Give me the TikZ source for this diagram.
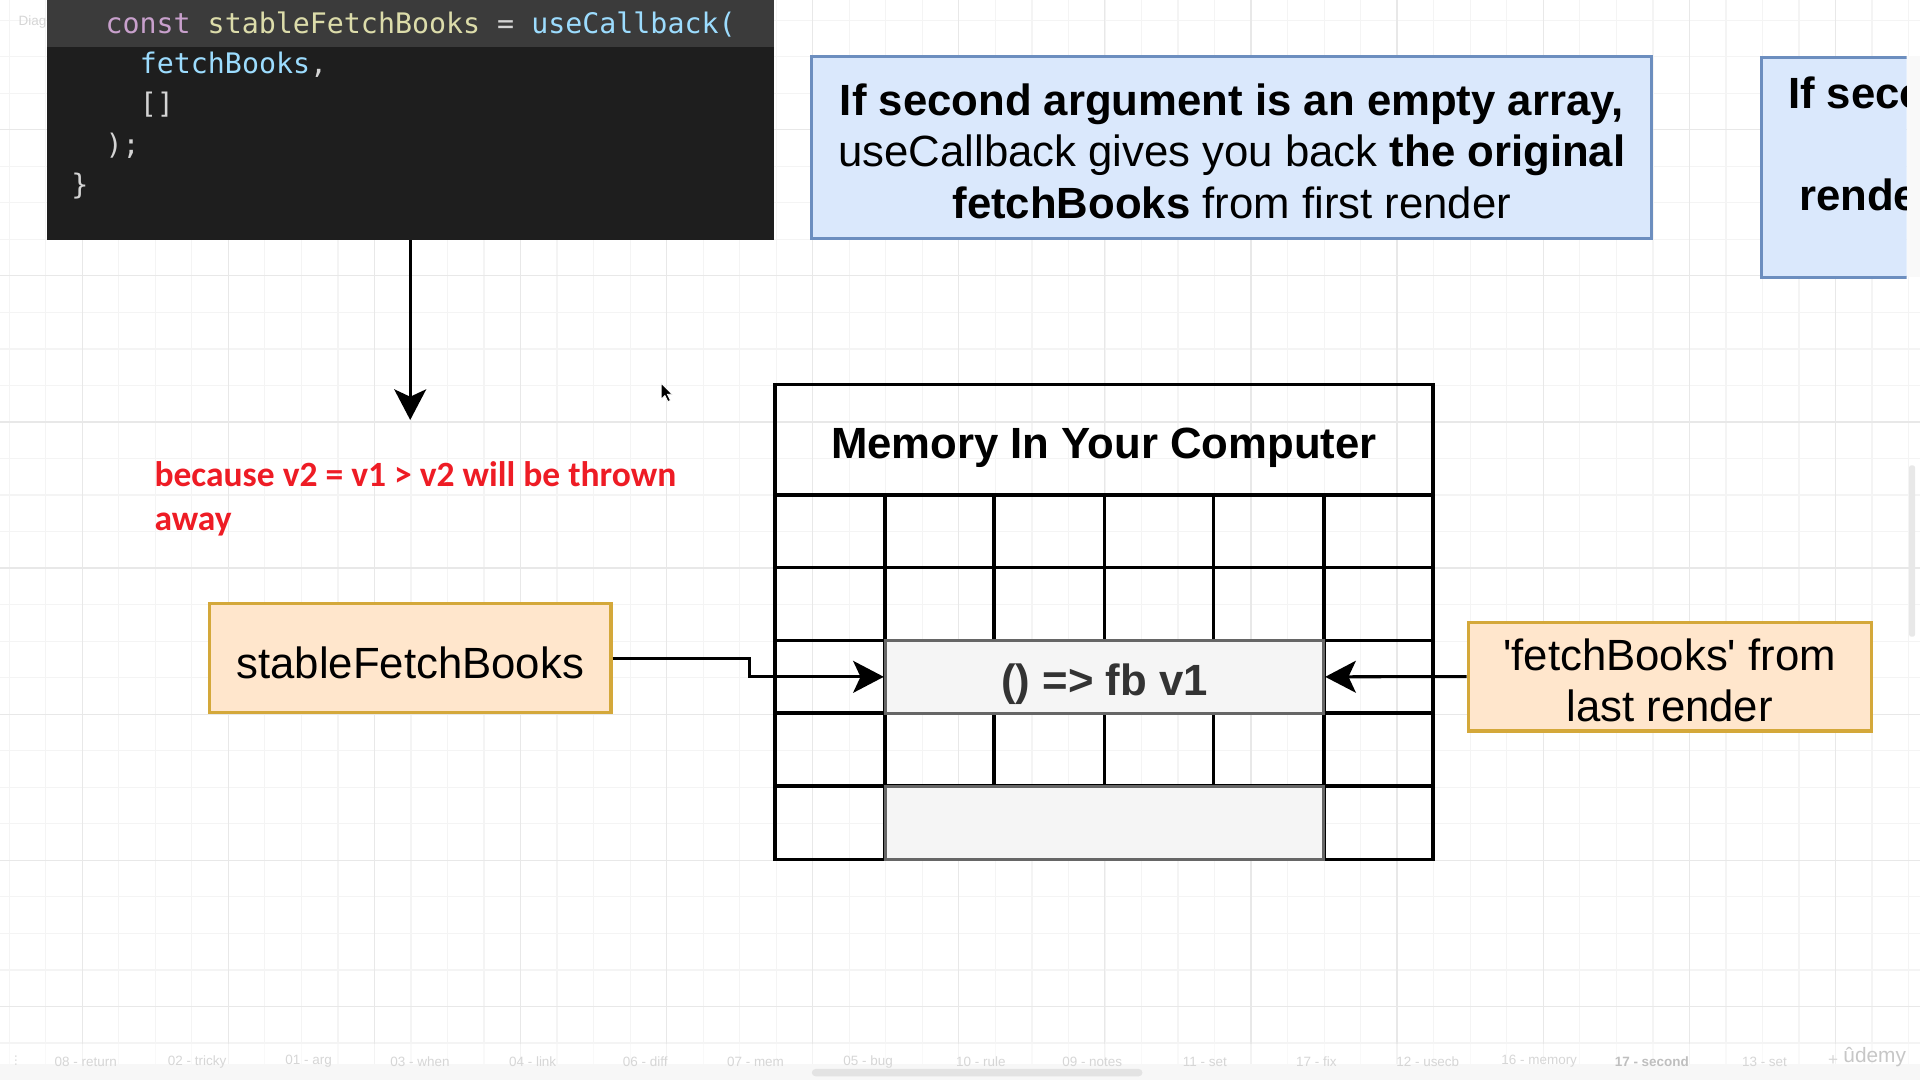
\documentclass[tikz,border=0pt]{standalone}
\usepackage{fontspec}
\setmainfont{Liberation Sans}[Ligatures=TeXOff]
\newfontfamily\codefont{DejaVu Sans Mono}
\newfontfamily\redfont{Carlito}[Ligatures=TeXOff]
\usetikzlibrary{arrows.meta}
\definecolor{codebg}{HTML}{1E1E1E}
\definecolor{codebar}{HTML}{3E3E3E}
\definecolor{kwcol}{HTML}{C8A0CC}
\definecolor{fncol}{HTML}{DCDCAA}
\definecolor{varcol}{HTML}{9CDCFE}
\definecolor{punccol}{HTML}{D4D4D4}
\definecolor{bluefill}{HTML}{DAE8FC}
\definecolor{bluedraw}{HTML}{6C8EBF}
\definecolor{orfill}{HTML}{FFE6CC}
\definecolor{ordraw}{HTML}{D4A83A}
\definecolor{grayfill}{HTML}{F5F5F5}
\definecolor{graydraw}{HTML}{666666}
\definecolor{fbtext}{HTML}{333333}
\definecolor{redtext}{HTML}{EE1C25}
\definecolor{gridminor}{HTML}{F4F4F4}
\definecolor{gridmajor}{HTML}{E8E8E8}
\definecolor{tabtext}{HTML}{D6D6D6}
\tikzset{
  big/.style={font=\fontsize{35.7}{42}\selectfont, align=center, inner sep=0pt},
  bigbold/.style={font=\bfseries\fontsize{35.7}{42}\selectfont, align=center, inner sep=0pt},
  codetext/.style={font=\codefont\fontsize{23.1}{33}\selectfont, anchor=base west, inner sep=0pt},
  notebox/.style={draw=bluedraw, fill=bluefill, line width=2.5pt, inner sep=0pt},
  orbox/.style={draw=ordraw, fill=orfill, line width=2.5pt, inner sep=0pt},
  graycell/.style={draw=graydraw, fill=grayfill, line width=2.5pt, inner sep=0pt,
     minimum width=358pt, minimum height=59.6pt},
  tblline/.style={line width=3pt, black},
  arr/.style={line width=2.5pt, -{Stealth[length=25pt, width=26pt, inset=6pt]}},
  redline/.style={font=\redfont\bfseries\fontsize{29}{36}\selectfont, text=redtext, anchor=base west, inner sep=0pt},
  tablabel/.style={font=\fontsize{11}{13}\selectfont, text=tabtext, inner sep=0pt},
}
\begin{document}
\begin{tikzpicture}[x=1pt, y=-1pt]
\useasboundingbox (0,0) rectangle (1568,882);
\fill[white] (0,0) rectangle (1568,882);
% grid
\foreach \i in {0,...,52} {\draw[gridminor, line width=1pt] ({7.5+29.83*\i},0) -- ({7.5+29.83*\i},882);}
\foreach \j in {0,...,29} {\draw[gridminor, line width=1pt] (0,{16.5+29.83*\j}) -- (1568,{16.5+29.83*\j});}
\foreach \k in {0,...,12} {\draw[gridmajor, line width=1pt] ({67.2+119.3*\k},0) -- ({67.2+119.3*\k},882);}
\foreach \k in {0,...,6} {\draw[gridmajor, line width=1pt] (0,{106+119.3*\k}) -- (1568,{106+119.3*\k});}

% faint toolbar label
\node[tablabel, anchor=west] (diag) at (15,18) {Diagram};

% code box
\node[fill=codebg, minimum width=594pt, minimum height=196pt, inner sep=0pt] (code) at (335,98) {};
\fill[codebar, opacity=0.93] (38,0) rectangle (632,38);
\node[codetext] (c1) at (86,27) {\textcolor{kwcol}{const} \textcolor{fncol}{stableFetchBooks} \textcolor{punccol}{=} \textcolor{varcol}{useCallback(}};
\node[codetext, text=varcol] (c2) at (114,60) {fetchBooks\textcolor{punccol}{,}};
\node[codetext, text=punccol] (c3) at (114,93) {[]};
\node[codetext, text=punccol] (c4) at (86,126) {);};
\node[codetext, text=punccol] (c5) at (58,159) {\}};

% blue note
\node[notebox, minimum width=686pt, minimum height=149pt] (note) at (1006,120.5) {};
\node[big] (notetext) at (1006,123.5)
  {{\bfseries If second argument is an empty array,}\\
   useCallback gives you back {\bfseries the original}\\
   {\bfseries fetchBooks} from first render};

% cut-off note at the right
\begin{scope}
\clip (1430,40) rectangle (1557,232);
\node[notebox, minimum width=300pt, minimum height=179pt, anchor=north west] (note2) at (1437,46) {};
\node[bigbold, anchor=base west] (n2a) at (1460,89) {If seco};
\node[bigbold, anchor=base west] (n2b) at (1469,172) {rende};
\end{scope}
\fill[gridminor!50!white] (1557,46) rectangle (1568,226);

% down arrow
\coordinate (downend) at (335,343);
\draw[arr] (code.south) -- (downend);

% mouse cursor
\filldraw[fill=black, draw=white, line width=0.6pt] (540,313) -- (540,326) -- (543,323) -- (545.5,328) -- (547.5,327) -- (545,322) -- (549,322) -- cycle;

% red note
\node[redline] (red1) at (126,397) {because v2 = v1 > v2 will be thrown};
\node[redline] (red2) at (126,433) {away};

% memory table
\node[bigbold] (memtitle) at (901.5,366) {Memory In Your Computer};
\draw[tblline] (633,314) rectangle (1170,702);
\draw[tblline] (633,404) -- (1170,404);
\foreach \y in {463.5,523,582.5,642} {\draw[tblline] (633,\y) -- (1170,\y);}
\foreach \x in {723,1081} {\draw[tblline] (\x,404) -- (\x,702);}
\foreach \x in {812,902,991} {\draw[tblline] (\x,404) -- (\x,523); \draw[tblline] (\x,582.5) -- (\x,642);}
\node[graycell] (fb) at (902,552.75) {};
\node[bigbold, text=fbtext] (fbtext) at (902,558.5) {() => fb v1};
\node[graycell] (empty) at (902,672) {};
\draw[graydraw, line width=2.5pt] (723,702) -- (1081,702);

% orange boxes
\node[orbox, minimum width=328pt, minimum height=89pt] (sfb) at (335,537.5) {};
\node[big] (sfbtext) at (335,541.5) {stableFetchBooks};
\node[orbox, minimum width=329pt, minimum height=89pt] (last) at (1363.5,552.5) {};
\node[big] (lasttext) at (1363.5,555.5) {'fetchBooks' from\\last render};

% connectors
\draw[arr] (sfb.east) -- ++(112,0) |- (fb.west);
\draw[arr] (last.west) -- (fb.east);

% scrollbars
\fill[gridmajor, rounded corners=2pt] (1559,380) rectangle (1564,520);

% bottom tab bar
\fill[white, opacity=0.5] (0,853) rectangle (1568,869);
\fill[black!3] (0,869) rectangle (1568,882);
\fill[black!11, rounded corners=3pt] (663,873) rectangle (933,879);
\node[tablabel] (t0) at (13,866) {\rotatebox{90}{...}};
\node[tablabel] (t1) at (70,867) {08 - return};
\node[tablabel] (t2) at (161,867) {02 - tricky};
\node[tablabel] (t3) at (252,867) {01 - arg};
\node[tablabel] (t4) at (343,867) {03 - when};
\node[tablabel] (t5) at (435,867) {04 - link};
\node[tablabel] (t6) at (527,867) {06 - diff};
\node[tablabel] (t7) at (617,867) {07 - mem};
\node[tablabel] (t8) at (709,867) {05 - bug};
\node[tablabel] (t9) at (801,867) {10 - rule};
\node[tablabel] (t10) at (892,867) {09 - notes};
\node[tablabel] (t11) at (984,867) {11 - set};
\node[tablabel] (t12) at (1075,867) {17 - fix};
\node[tablabel] (t13) at (1166,867) {12 - usecb};
\node[tablabel] (t14) at (1257,867) {16 - memory};
\node[tablabel, text=black!25, font=\bfseries\fontsize{11}{13}\selectfont] (t15) at (1349,867) {17 - second};
\node[tablabel] (t16) at (1441,867) {13 - set};
\node[tablabel, font=\fontsize{14}{16}\selectfont] (plus) at (1497,866) {+};
\node[tablabel, text=black!22, font=\fontsize{17}{19}\selectfont] (udemy) at (1531,863) {ûdemy};
\end{tikzpicture}
\end{document}
